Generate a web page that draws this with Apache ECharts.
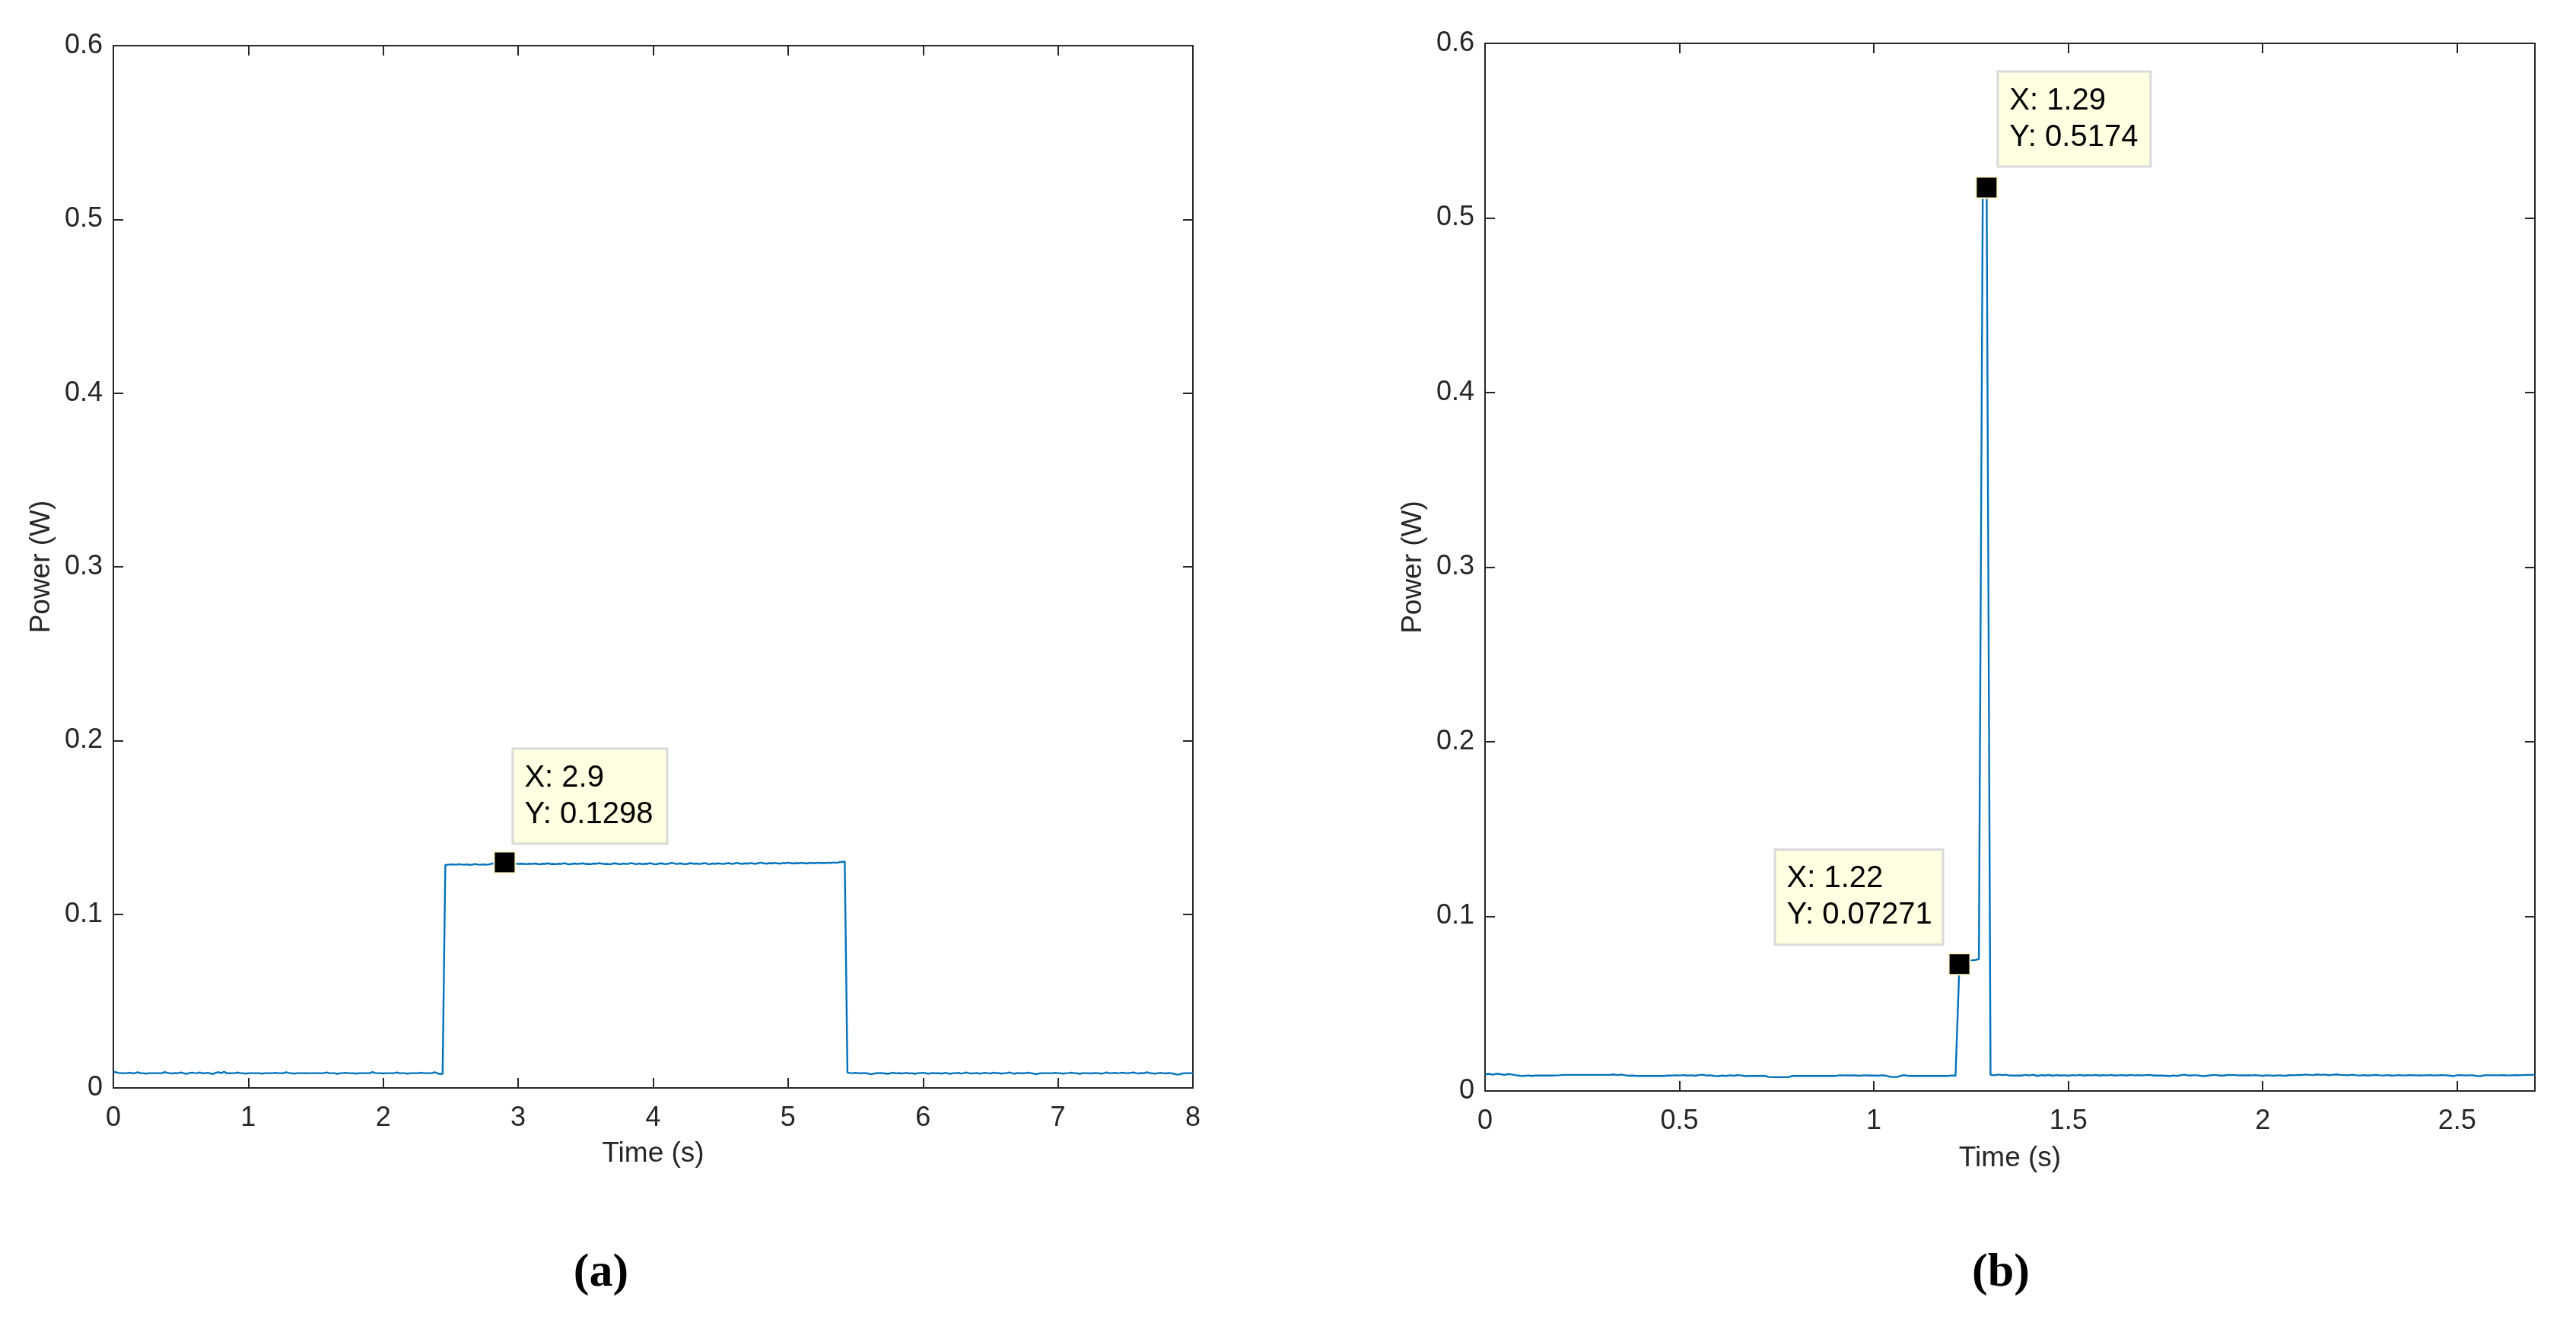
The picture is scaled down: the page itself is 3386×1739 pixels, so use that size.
<!DOCTYPE html>
<html>
<head>
<meta charset="utf-8">
<script src="https://cdn.jsdelivr.net/npm/echarts@6/dist/echarts.min.js"></script>
<style>
  html, body { margin: 0; padding: 0; background: #fff; }
  #chart { width: 3386px; height: 1739px; }
</style>
</head>
<body>
<div id="chart"></div>
<script>
// (a) power trace, one sample every 0.02 s from 0 to 8 s
var stepA = 0.02;
var powerA_before = [
  0.0092,0.0090,0.0086,0.0085,0.0085,0.0085,0.0088,0.0084,0.0085,0.0090,
  0.0085,0.0085,0.0082,0.0085,0.0085,0.0085,0.0085,0.0085,0.0085,0.0091,
  0.0087,0.0085,0.0083,0.0086,0.0085,0.0089,0.0085,0.0081,0.0085,0.0088,
  0.0086,0.0085,0.0089,0.0084,0.0085,0.0087,0.0083,0.0080,0.0088,0.0090,
  0.0085,0.0093,0.0085,0.0084,0.0085,0.0085,0.0089,0.0085,0.0085,0.0082,
  0.0085,0.0085,0.0085,0.0085,0.0085,0.0082,0.0085,0.0085,0.0085,0.0085,
  0.0087,0.0085,0.0085,0.0085,0.0090,0.0086,0.0085,0.0082,0.0085,0.0085,
  0.0085,0.0084,0.0085,0.0085,0.0085,0.0085,0.0085,0.0085,0.0085,0.0089,
  0.0085,0.0085,0.0085,0.0081,0.0085,0.0085,0.0087,0.0085,0.0085,0.0085,
  0.0082,0.0085,0.0085,0.0085,0.0085,0.0085,0.0091,0.0086,0.0085,0.0085,
  0.0083,0.0085,0.0085,0.0085,0.0085,0.0089,0.0085,0.0085,0.0085,0.0082,
  0.0085,0.0085,0.0085,0.0085,0.0088,0.0085,0.0085,0.0085,0.0085,0.0090,
  0.0085,0.0080,0.0081
];
var powerA_on = [
  0.1283,0.1285,0.1287,0.1286,0.1285,0.1288,0.1286,0.1285,0.1287,0.1284,
  0.1285,0.1289,0.1286,0.1285,0.1287,0.1285,0.1286,0.1290,0.1293,0.1292,
  0.1295,0.1296,0.1298,0.1296,0.1293,0.1290,0.1292,0.1289,0.1291,0.1290,
  0.1288,0.1291,0.1289,0.1292,0.1290,0.1287,0.1291,0.1290,0.1293,0.1289,
  0.1290,0.1288,0.1291,0.1289,0.1294,0.1290,0.1287,0.1290,0.1292,0.1289,
  0.1291,0.1293,0.1289,0.1290,0.1288,0.1292,0.1290,0.1294,0.1291,0.1289,
  0.1290,0.1287,0.1291,0.1293,0.1290,0.1288,0.1292,0.1289,0.1291,0.1295,
  0.1290,0.1289,0.1292,0.1288,0.1291,0.1290,0.1294,0.1289,0.1287,0.1291,
  0.1293,0.1290,0.1289,0.1292,0.1296,0.1291,0.1289,0.1293,0.1290,0.1288,
  0.1291,0.1294,0.1290,0.1292,0.1289,0.1291,0.1295,0.1290,0.1288,0.1292,
  0.1290,0.1293,0.1291,0.1289,0.1292,0.1294,0.1290,0.1291,0.1296,0.1292,
  0.1290,0.1293,0.1291,0.1295,0.1292,0.1290,0.1294,0.1297,0.1293,0.1291,
  0.1294,0.1292,0.1296,0.1293,0.1291,0.1295,0.1293,0.1297,0.1294,0.1292,
  0.1295,0.1293,0.1296,0.1294,0.1292,0.1296,0.1295,0.1293,0.1297,0.1294,
  0.1296,0.1294,0.1297,0.1295,0.1298,0.1296,0.1299,0.1301,0.1303
];
var powerA_after = [
  0.0088,0.0086,0.0085,0.0087,0.0085,0.0084,0.0086,0.0085,0.0081,0.0079,
  0.0083,0.0085,0.0086,0.0085,0.0083,0.0081,0.0085,0.0088,0.0084,0.0086,
  0.0083,0.0085,0.0087,0.0083,0.0085,0.0081,0.0085,0.0086,0.0087,0.0085,
  0.0082,0.0085,0.0086,0.0084,0.0085,0.0082,0.0087,0.0085,0.0081,0.0085,
  0.0085,0.0087,0.0083,0.0085,0.0089,0.0085,0.0083,0.0085,0.0086,0.0082,
  0.0085,0.0087,0.0085,0.0083,0.0088,0.0085,0.0086,0.0082,0.0085,0.0085,
  0.0089,0.0085,0.0082,0.0086,0.0085,0.0084,0.0085,0.0088,0.0085,0.0082,
  0.0079,0.0083,0.0085,0.0085,0.0085,0.0085,0.0085,0.0087,0.0085,0.0085,
  0.0082,0.0085,0.0086,0.0088,0.0085,0.0085,0.0081,0.0085,0.0085,0.0085,
  0.0083,0.0085,0.0086,0.0085,0.0082,0.0085,0.0089,0.0085,0.0085,0.0087,
  0.0085,0.0086,0.0088,0.0085,0.0085,0.0087,0.0089,0.0085,0.0083,0.0086,
  0.0085,0.0090,0.0085,0.0084,0.0082,0.0085,0.0087,0.0085,0.0083,0.0086,
  0.0085,0.0081,0.0077,0.0077,0.0083,0.0085,0.0085,0.0085,0.0086
];

// (b) power trace, one sample every 0.01 s from 0 to 2.7 s
var stepB = 0.01;
var powerB_before = [
  0.0095,0.0098,0.0093,0.0099,0.0096,0.0092,0.0097,0.0094,0.0090,0.0087,
  0.0086,0.0089,0.0086,0.0088,0.0088,0.0088,0.0088,0.0088,0.0089,0.0090,
  0.0092,0.0092,0.0092,0.0092,0.0092,0.0092,0.0092,0.0092,0.0092,0.0092,
  0.0092,0.0092,0.0092,0.0095,0.0091,0.0094,0.0090,0.0087,0.0088,0.0086,
  0.0086,0.0086,0.0086,0.0086,0.0086,0.0086,0.0086,0.0089,0.0088,0.0090,
  0.0089,0.0091,0.0088,0.0090,0.0087,0.0091,0.0093,0.0088,0.0090,0.0086,
  0.0085,0.0088,0.0086,0.0090,0.0087,0.0091,0.0089,0.0085,0.0086,0.0086,
  0.0086,0.0086,0.0086,0.0080,0.0079,0.0079,0.0079,0.0079,0.0079,0.0086,
  0.0086,0.0086,0.0086,0.0086,0.0086,0.0086,0.0086,0.0086,0.0086,0.0086,
  0.0086,0.0089,0.0089,0.0090,0.0088,0.0090,0.0087,0.0089,0.0090,0.0088,
  0.0089,0.0087,0.0090,0.0088,0.0082,0.0080,0.0080,0.0088,0.0090,0.0086,
  0.0086,0.0086,0.0086,0.0086,0.0086,0.0086,0.0086,0.0086,0.0086,0.0086,
  0.0089,0.0087
];
var powerB_spike = [0.07271,0.0735,0.0745,0.0748,0.0750,0.0755,0.515,0.5174];
var powerB_after = [
  0.0092,0.0090,0.0094,0.0091,0.0093,0.0088,0.0088,0.0088,0.0088,0.0092,
  0.0089,0.0093,0.0086,0.0091,0.0088,0.0092,0.0087,0.0091,0.0088,0.0090,
  0.0087,0.0091,0.0089,0.0092,0.0088,0.0091,0.0089,0.0092,0.0088,0.0091,
  0.0089,0.0092,0.0088,0.0090,0.0091,0.0088,0.0092,0.0089,0.0091,0.0089,
  0.0091,0.0092,0.0088,0.0088,0.0088,0.0087,0.0085,0.0089,0.0086,0.0091,
  0.0093,0.0088,0.0090,0.0090,0.0087,0.0085,0.0088,0.0091,0.0091,0.0088,
  0.0088,0.0092,0.0091,0.0091,0.0089,0.0089,0.0089,0.0089,0.0091,0.0089,
  0.0087,0.0090,0.0089,0.0087,0.0090,0.0088,0.0087,0.0091,0.0090,0.0092,
  0.0091,0.0094,0.0092,0.0091,0.0095,0.0092,0.0094,0.0090,0.0093,0.0095,
  0.0092,0.0091,0.0090,0.0093,0.0090,0.0089,0.0091,0.0088,0.0090,0.0092,
  0.0090,0.0089,0.0091,0.0088,0.0089,0.0091,0.0089,0.0090,0.0091,0.0090,
  0.0089,0.0089,0.0090,0.0091,0.0089,0.0090,0.0091,0.0090,0.0088,0.0085,
  0.0090,0.0091,0.0089,0.0090,0.0090,0.0086,0.0085,0.0090,0.0090,0.0090,
  0.0090,0.0090,0.0091,0.0089,0.0090,0.0091,0.0090,0.0091,0.0092,0.0092,
  0.0093
];

// data tips [x, y]
var tipsA = [[2.9, 0.1298]];
var tipsB = [[1.22, 0.07271], [1.29, 0.5174]];

var lineColor = '#0072bd';
var axisColor = '#262626';
var fontName = '"Liberation Sans", Arial, Helvetica, sans-serif';

function toPairs(step, arr) {
  return arr.map(function (v, i) { return [Math.round(i * step * 1000) / 1000, v]; });
}
var dataA = toPairs(stepA, powerA_before.concat(powerA_on, powerA_after));
var dataB = toPairs(stepB, powerB_before.concat(powerB_spike, powerB_after));

function tipItem(p, pos, w) {
  return {
    coord: p,
    label: {
      show: true,
      position: pos,
      align: 'left',
      verticalAlign: 'top',
      width: w,
      formatter: 'X: ' + p[0] + '\nY: ' + p[1],
      fontFamily: fontName,
      fontSize: 40,
      lineHeight: 48,
      color: '#000',
      backgroundColor: '#ffffe1',
      borderColor: '#d9d9d9',
      borderWidth: 3,
      padding: [13, 12, 13, 14]
    }
  };
}

function mainX(grid, max, interval, showMax, nameGap) {
  return {
    gridIndex: grid, type: 'value', min: 0, max: max, interval: interval,
    name: 'Time (s)', nameLocation: 'middle', nameGap: nameGap,
    nameTextStyle: { fontFamily: fontName, fontSize: 37, color: axisColor },
    axisLine: { show: true, onZero: false, lineStyle: { color: axisColor, width: 2 } },
    axisTick: { show: true, inside: true, length: 13, lineStyle: { color: axisColor, width: 2 } },
    axisLabel: { show: true, margin: 22, showMaxLabel: showMax, fontFamily: fontName, fontSize: 36, color: axisColor },
    splitLine: { show: false }
  };
}
function topX(grid, max, interval) {
  return {
    gridIndex: grid, type: 'value', position: 'top', min: 0, max: max, interval: interval,
    axisLine: { show: true, onZero: false, lineStyle: { color: axisColor, width: 2 } },
    axisTick: { show: true, inside: true, length: 13, lineStyle: { color: axisColor, width: 2 } },
    axisLabel: { show: false },
    splitLine: { show: false }
  };
}
function mainY(grid) {
  return {
    gridIndex: grid, type: 'value', min: 0, max: 0.6, interval: 0.1,
    name: 'Power (W)', nameLocation: 'middle', nameGap: 76,
    nameTextStyle: { fontFamily: fontName, fontSize: 37, color: axisColor },
    axisLine: { show: true, onZero: false, lineStyle: { color: axisColor, width: 2 } },
    axisTick: { show: true, inside: true, length: 13, lineStyle: { color: axisColor, width: 2 } },
    axisLabel: { show: true, margin: 14, fontFamily: fontName, fontSize: 36, color: axisColor },
    splitLine: { show: false }
  };
}
function rightY(grid) {
  return {
    gridIndex: grid, type: 'value', position: 'right', min: 0, max: 0.6, interval: 0.1,
    axisLine: { show: true, onZero: false, lineStyle: { color: axisColor, width: 2 } },
    axisTick: { show: true, inside: true, length: 13, lineStyle: { color: axisColor, width: 2 } },
    axisLabel: { show: false },
    splitLine: { show: false }
  };
}

var markStyle = {
  symbol: 'rect', symbolSize: 28,
  itemStyle: { color: '#000', borderColor: '#fff8cc', borderWidth: 2 }
};

var chart = echarts.init(document.getElementById('chart'));
var option = {
  animation: false,
  backgroundColor: '#fff',
  grid: [
    { left: 149, top: 60, width: 1419, height: 1370 },
    { left: 1952, top: 57, width: 1380, height: 1377 }
  ],
  xAxis: [
    mainX(0, 8, 1, true, 68),
    topX(0, 8, 1),
    mainX(1, 2.7, 0.5, false, 70),
    topX(1, 2.7, 0.5)
  ],
  yAxis: [mainY(0), rightY(0), mainY(1), rightY(1)],
  series: [
    {
      type: 'line', xAxisIndex: 0, yAxisIndex: 0, data: dataA,
      showSymbol: false, lineStyle: { color: lineColor, width: 2.4 },
      markPoint: Object.assign({ data: [tipItem(tipsA[0], [27, -133], 174)] }, markStyle)
    },
    {
      type: 'line', xAxisIndex: 2, yAxisIndex: 2, data: dataB,
      showSymbol: false, lineStyle: { color: lineColor, width: 2.4 },
      markPoint: Object.assign({
        data: [tipItem(tipsB[0], [-226, -134], 192), tipItem(tipsB[1], [31, -136], 172)]
      }, markStyle)
    }
  ],
  graphic: [
    { type: 'text', x: 790, y: 1674, style: { text: '(a)', align: 'center', verticalAlign: 'middle', fill: '#000', font: 'bold 62px "Liberation Serif", "Times New Roman", serif' } },
    { type: 'text', x: 2630, y: 1674, style: { text: '(b)', align: 'center', verticalAlign: 'middle', fill: '#000', font: 'bold 62px "Liberation Serif", "Times New Roman", serif' } }
  ]
};
chart.setOption(option);
</script>
</body>
</html>
